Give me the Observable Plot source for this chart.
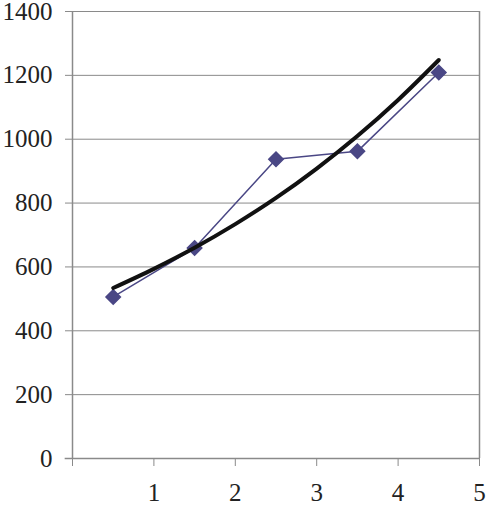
<!DOCTYPE html>
<html><head><meta charset="utf-8">
<script src="https://cdn.jsdelivr.net/npm/d3@7"></script>
<script src="https://cdn.jsdelivr.net/npm/@observablehq/plot@0.6"></script>
<style>
body{margin:0;background:#fff}
</style>
</head><body><div id="chart"></div>
<script>
const xs = [0.5, 1.5, 2.5, 3.5, 4.5];
const ys = [506, 659, 937, 962, 1209];
const trendX = [0.5, 1.0, 1.5, 2.0, 2.5, 3.0, 3.5, 4.0, 4.5];
const trendY = [534, 594, 660, 734, 816, 908, 1010, 1123, 1248];
const xTicks = [0, 1, 2, 3, 4, 5];
const yTicks = [0, 200, 400, 600, 800, 1000, 1200, 1400];

const pts = xs.map((x, i) => ({x, y: ys[i]}));
const trend = trendX.map((x, i) => ({x, y: trendY[i]}));
const gray = "#8a8a8a";
const serif = "'Liberation Serif', 'Times New Roman', 'DejaVu Serif', serif";

const chart = Plot.plot({
  width: 486, height: 507,
  marginLeft: 72, marginRight: 7, marginTop: 11, marginBottom: 49,
  style: {color: "#222", background: "#fff", fontFamily: serif, fontSize: "25px"},
  x: {domain: [0, 5]},
  y: {domain: [0, 1400]},
  marks: [
    Plot.ruleY(yTicks.filter(d => d > 0), {stroke: gray, strokeWidth: 1}),
    Plot.ruleX([0, 5], {stroke: gray, strokeWidth: 1.5}),
    Plot.ruleY([0], {x1: -0.09, x2: 5, stroke: gray, strokeWidth: 1.5}),
    Plot.axisY({ticks: yTicks, tickSize: 7, tickPadding: 13, stroke: gray, label: null, tickFormat: d => String(d), fontSize: 25}),
    Plot.axisX({ticks: xTicks, tickSize: 8, tickPadding: 17, stroke: gray, label: null, tickFormat: d => d === 0 ? "" : String(d), fontSize: 25}),
    Plot.line(pts, {x: "x", y: "y", stroke: "#4a4785", strokeWidth: 1.5}),
    Plot.dot(pts, {x: "x", y: "y", symbol: "diamond2", r: 6.5, fill: "#4a4785", stroke: "#4a4785"}),
    Plot.line(trend, {x: "x", y: "y", stroke: "#111", strokeWidth: 4, curve: "catmull-rom"})
  ]
});
d3.select(chart).selectAll("text").style("font-family", serif).style("font-size", "25px").style("fill", "#222");
document.getElementById("chart").append(chart);
</script>
</body></html>
